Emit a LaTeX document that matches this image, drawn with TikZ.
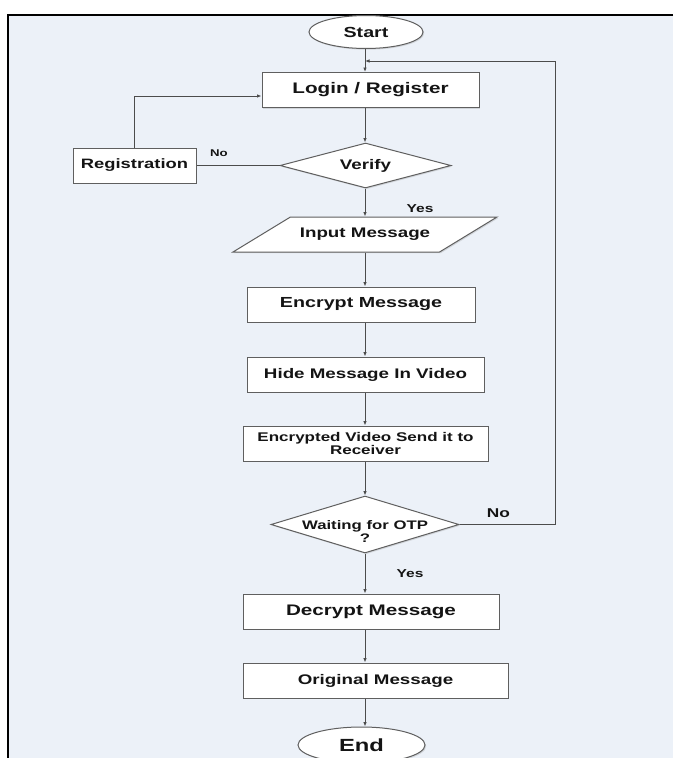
\documentclass[tikz,border=0pt]{standalone}
\usepackage{fontspec}
\setmainfont{Liberation Sans}[FakeStretch=1.35]
\usetikzlibrary{shapes.geometric,arrows.meta,shadows}

\definecolor{pagebg}{RGB}{236,241,248}
\definecolor{boxline}{RGB}{95,95,95}
\definecolor{inkgray}{RGB}{20,20,20}

\newcommand\flowfont[1]{\bfseries\fontsize{#1}{\dimexpr#1pt+1pt\relax}\selectfont}
\newcommand\nowidth[1]{\makebox[0pt]{#1}}

\tikzset{
	base/.style={draw=boxline,line width=1pt,fill=white,text=inkgray,align=center,
		font=\flowfont{13.9},inner sep=1pt,
		drop shadow={opacity=0.25,shadow xshift=1.2pt,shadow yshift=-1.2pt}},
	term/.style={base,ellipse,minimum width=114pt,minimum height=33pt},
	proc/.style={base,rectangle,minimum height=35pt},
	decide/.style={base,diamond,shape aspect=3.5,inner sep=0pt},
	io/.style={base,trapezium,trapezium left angle=31,trapezium right angle=149,
		trapezium stretches body,inner ysep=11pt,minimum width=264pt,minimum height=35pt},
	lbl/.style={text=inkgray,font=\flowfont{11.5},inner sep=0pt},
	line/.style={draw=boxline!80!black,line width=0.9pt},
	flow/.style={line,-{Latex[length=4.5pt,width=3.6pt]}}
}

\begin{document}
\begin{tikzpicture}[x=1pt,y=-1pt]
	\useasboundingbox (0,0) rectangle (673,758);
	\fill[white] (0,0) rectangle (673,758);
	\fill[pagebg] (8,15) rectangle (673,758);
	\draw[black,line width=2.2pt] (673,15) -- (8,15) -- (8,758);

	\node[term,font=\flowfont{14.6}] (start) at (366,32) {Start};
	\node[proc,minimum width=217pt,font=\flowfont{15.3}] (login) at (370.5,90) {Login / Register};
	\node[decide,minimum width=171pt,minimum height=45pt] (verify) at (365.5,165.5) {Verify};
	\node[proc,minimum width=123pt,font=\flowfont{13.6}] (regist) at (134.5,165.5) {Registration};
	\node[io] (input) at (365,234.5) {Input Message};
	\node[proc,minimum width=228pt,font=\flowfont{14.6}] (encrypt) at (361,304.5) {Encrypt Message};
	\node[proc,minimum width=237pt] (hide) at (365.5,374.5) {Hide Message In Video};
	\node[proc,minimum width=245pt,font=\flowfont{12.6}] (send) at (365.5,443.5) {Encrypted Video Send it to\\Receiver};
	\node[decide,minimum width=188pt,minimum height=57pt,font=\flowfont{12.4}] (otp) at (365,524.5) {\rule{0pt}{23pt}\nowidth{Waiting for OTP}\\\nowidth{?}};
	\node[proc,minimum width=256pt,font=\flowfont{15.3}] (decrypt) at (371,611.5) {Decrypt Message};
	\node[proc,minimum width=265pt] (original) at (375.5,680.5) {Original Message};
	\node[term,minimum width=127pt,minimum height=36pt,font=\flowfont{17.6}] (stop) at (361.5,745) {End};

	\node[lbl,font=\flowfont{9.8}] (noleft) at (219,153) {No};
	\node[lbl] (yestop) at (420,209) {Yes};
	\node[lbl,font=\flowfont{12.8}] (noright) at (498.5,513) {No};
	\node[lbl] (yesbot) at (410,574) {Yes};

	\coordinate (spine) at (365,0);
	\coordinate (join) at (365,61);
	\foreach \a/\b in {start/login,login/verify,verify/input,input/encrypt,encrypt/hide,hide/send,send/otp,otp/decrypt,decrypt/original,original/stop}
		\draw[flow] (spine |- \a.south) -- (spine |- \b.north);

	\draw[line] (verify.west) -- (regist.east);
	\draw[flow] (regist.north) |- ([yshift=-6pt]login.west);
	\draw[flow] (otp.east) -- ++(96,0) |- (join);
\end{tikzpicture}
\end{document}
